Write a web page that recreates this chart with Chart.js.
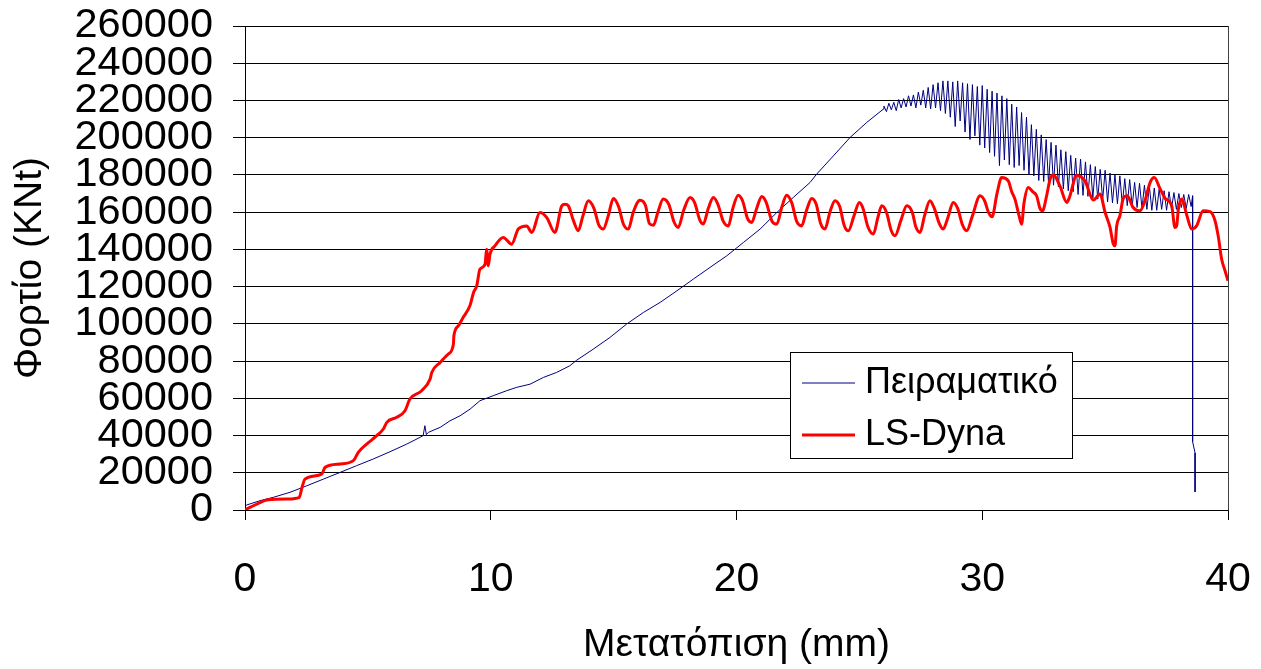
<!DOCTYPE html>
<html>
<head>
<meta charset="utf-8">
<script src="https://cdn.jsdelivr.net/npm/chart.js@4.4.0/dist/chart.umd.min.js"></script>
<style>
  html, body { margin: 0; padding: 0; background: #ffffff; }
  #wrap { width: 1261px; height: 669px; position: relative; }
</style>
</head>
<body>
<div id="wrap"><canvas id="c" width="1261" height="669"></canvas></div>
<script>
// Load–displacement curves: test measurement vs. LS-Dyna simulation
const seriesNames = ['Πειραματικό', 'LS-Dyna'];
const xTitle = 'Μετατόπιση (mm)';
const yTitle = 'Φορτίο (KNt)';
const xTicks = [0, 10, 20, 30, 40];
const yTicks = [0, 20000, 40000, 60000, 80000, 100000, 120000, 140000, 160000,
                180000, 200000, 220000, 240000, 260000];

// Test (Πειραματικό): displacement (mm) and load
const testDisp = [
  0.0, 0.07, 0.61, 1.15, 1.83, 2.51, 3.19, 3.87, 4.54, 5.22, 5.90, 6.58, 7.12, 7.25, 7.32, 7.38, 7.46,
  7.94, 8.34, 8.75, 9.16, 9.56, 10.10, 10.65, 11.06, 11.60, 12.14, 12.68, 13.22, 13.50, 14.17, 14.85,
  15.53, 16.21, 16.89, 17.57, 18.24, 18.92, 19.60, 20.28, 20.96, 21.64, 22.31, 22.99, 23.26, 23.94,
  24.62, 25.30, 25.97,
  26.0, 26.1, 26.2, 26.3, 26.4, 26.5, 26.6, 26.7, 26.8, 26.9,
  27.0, 27.1, 27.2, 27.3, 27.4, 27.5, 27.6, 27.7, 27.8, 27.9,
  28.0, 28.1, 28.2, 28.3, 28.4, 28.5, 28.6, 28.7, 28.8, 28.9,
  29.0, 29.1, 29.2, 29.3, 29.4, 29.5, 29.6, 29.7, 29.8, 29.9,
  30.0, 30.1, 30.2, 30.3, 30.4, 30.5, 30.6, 30.7, 30.8, 30.9,
  31.0, 31.1, 31.2, 31.3, 31.4, 31.5, 31.6, 31.7, 31.8, 31.9,
  32.0, 32.1, 32.2, 32.3, 32.4, 32.5, 32.6, 32.7, 32.8, 32.9,
  33.0, 33.1, 33.2, 33.3, 33.4, 33.5, 33.6, 33.7, 33.8, 33.9,
  34.0, 34.1, 34.2, 34.3, 34.4, 34.5, 34.6, 34.7, 34.8, 34.9,
  35.0, 35.1, 35.2, 35.3, 35.4, 35.5, 35.6, 35.7, 35.8, 35.9,
  36.0, 36.1, 36.2, 36.3, 36.4, 36.5, 36.6, 36.7, 36.8, 36.9,
  37.0, 37.1, 37.2, 37.3, 37.4, 37.5, 37.6, 37.7, 37.8, 37.9,
  38.0, 38.1, 38.2, 38.3, 38.4, 38.5, 38.56, 38.56, 38.66, 38.66
];
const testLoad = [
  2000, 2700, 5000, 6800, 9500, 13000, 16600, 20200, 23800, 27400, 31300, 35400, 39000, 40000, 45300, 40500, 41700,
  44400, 47900, 50600, 54200, 58700, 61400, 64100, 65900, 67600, 71200, 73900, 77500, 80500, 86400, 92700,
  99900, 106100, 111500, 117700, 124000, 130300, 136500, 143700, 150900, 159800, 167900, 175900, 180400, 190200,
  200100, 208200, 215300,
  217000, 214000, 218500, 215000, 219000, 214500, 220500, 216000, 221000, 216500,
  222500, 217000, 223000, 216000, 224500, 217500, 225500, 216000, 227000, 215500,
  228500, 216000, 229500, 214500, 230500, 213000, 230500, 211000, 230000, 206000,
  230500, 209000, 229500, 203000, 229000, 199000, 228500, 201000, 227500, 196000,
  228000, 194500, 226000, 192000, 225000, 190000, 224000, 185000, 222500, 188000,
  221000, 185500, 218000, 184000, 216500, 185000, 213500, 182500, 211000, 180000,
  207000, 179500, 204500, 177000, 201500, 176500, 199000, 175000, 197500, 174500,
  196000, 173500, 193500, 172500, 192500, 171500, 190500, 171000, 189000, 169500,
  188500, 169000, 187000, 168500, 185500, 167500, 184500, 167000, 183000, 166500,
  182500, 165500, 181000, 165000, 180000, 164500, 179500, 164000, 178000, 163500,
  177500, 163000, 176000, 162500, 175500, 162000, 174500, 161500, 174000, 161000,
  173000, 161000, 172500, 161500, 171500, 161000, 171000, 162000, 170500, 161500,
  170000, 162500, 169500, 162000, 169500, 163000, 168800, 36700, 30600, 9700
];

// LS-Dyna simulation: displacement (mm) and load
const dynaDisp = [
  0.00, 0.07, 0.48, 0.95, 1.76, 2.21, 2.31, 2.44, 3.12, 3.26, 3.87, 4.41, 4.61, 4.95, 5.36, 5.63, 5.77,
  6.17, 6.51, 6.71, 7.19, 7.53, 7.60, 7.94, 8.27, 8.48, 8.50, 8.68, 8.88, 9.16, 9.30, 9.43, 9.56, 9.77,
  9.83, 9.90, 9.97, 10.17, 10.51, 10.85, 11.12, 11.46, 11.67, 12.00, 12.28, 12.61, 12.89, 13.02, 13.16,
  13.35, 13.56, 13.75, 13.97, 14.20, 14.40, 14.58, 14.78, 14.99, 15.20, 15.40, 15.60, 15.80, 16.07,
  16.30, 16.45, 16.62, 16.80, 17.02, 17.25, 17.45, 17.63, 17.85, 18.11, 18.30, 18.50, 18.65, 18.85,
  19.06, 19.25, 19.45, 19.67, 19.85, 20.07, 20.25, 20.45, 20.62, 20.82, 21.03, 21.20, 21.45, 21.64,
  21.85, 22.04, 22.25, 22.45, 22.65, 22.85, 23.06, 23.25, 23.42, 23.60, 23.80, 24.01, 24.20, 24.38,
  24.55, 24.78, 25.00, 25.15, 25.35, 25.57, 25.75, 25.91, 26.10, 26.30, 26.45, 26.70, 26.93, 27.15,
  27.30, 27.47, 27.65, 27.87, 28.05, 28.25, 28.41, 28.60, 28.82, 29.00, 29.20, 29.37, 29.60, 29.91,
  30.10, 30.25, 30.40, 30.60, 30.79, 31.06, 31.20, 31.33, 31.50, 31.60, 31.70, 31.87, 32.05, 32.21,
  32.35, 32.45, 32.62, 32.76, 32.89, 33.16, 33.44, 33.55, 33.84, 34.18, 34.52, 34.79, 35.00, 35.20,
  35.33, 35.40, 35.47, 35.60, 35.74, 35.90, 36.14, 36.42, 36.62, 36.83, 37.00, 37.23, 37.44, 37.71,
  37.84, 37.91, 37.98, 38.12, 38.32, 38.52, 38.72, 38.99, 39.27, 39.47, 39.61, 39.74, 39.88, 40.00
];
const dynaLoad = [
  0, 500, 3200, 5500, 5900, 6800, 11600, 16600, 19300, 22900, 24700, 26500, 31000, 35400, 39900, 43500, 47100,
  49800, 53300, 59600, 64100, 70300, 73900, 79300, 83800, 89100, 93600, 98900, 103500, 110000, 116900, 120400, 129400, 132100,
  140100, 131200, 137400, 141900, 146400, 142800, 150900, 152600, 149100, 159800, 157100, 149100, 163400, 164300, 163400,
  156000, 150000, 158000, 166100, 162000, 153000, 150900, 158000, 167300, 163000, 153500, 150900, 160000, 166400,
  163500, 154000, 153000, 160000, 167000, 164000, 155000, 151800, 161000, 167900, 165000, 156000, 153600, 162000,
  167900, 164000, 155500, 152600, 162000, 169100, 166000, 156500, 154500, 162000, 168400, 165500, 155000, 153600,
  163000, 169100, 165000, 155000, 152600, 161000, 167300, 164000, 154000, 150900, 160000, 166100, 163000, 153000,
  150000, 158000, 165200, 162000, 152000, 148200, 157000, 163400, 160000, 150000, 147300, 156000, 163400, 160000,
  152000, 149100, 158000, 166100, 162000, 154000, 150900, 157000, 165200, 162000, 153000, 150000, 158000, 168800,
  166000, 160000, 157500, 170000, 178600, 176800, 171000, 167000, 158000, 153500, 165000, 173300, 171000, 168800,
  162000, 160700, 168800, 177700, 179900, 174100, 165200, 168000, 179700, 176800, 166500, 169700, 159800, 151800,
  143000, 141900, 152600, 158000, 167500, 168800, 162500, 160700, 166100, 175900, 178600, 172800, 167500, 163400,
  151800, 152600, 161600, 167000, 158500, 150900, 152600, 160700, 160300, 155500, 146500, 134800, 128500, 123100
];

const FONT = "'Liberation Sans', Arial, sans-serif";
const toPoints = (xs, ys) => xs.map((x, i) => ({ x: x, y: ys[i] }));

// Right-hand frame line of the plot area
const framePlugin = {
  id: 'frame',
  beforeDatasetsDraw(chart) {
    const { ctx, chartArea: a } = chart;
    ctx.save();
    ctx.strokeStyle = '#404040';
    ctx.lineWidth = 1;
    ctx.beginPath();
    ctx.moveTo(Math.round(a.right) + 0.5, a.top);
    ctx.lineTo(Math.round(a.right) + 0.5, a.bottom);
    ctx.stroke();
    ctx.restore();
  }
};

// Boxed legend inside the plot area
const boxLegend = {
  id: 'boxLegend',
  afterDraw(chart) {
    const { ctx } = chart;
    const box = { x: 790.5, y: 352.5, w: 282, h: 106 };
    ctx.save();
    ctx.fillStyle = '#ffffff';
    ctx.fillRect(box.x, box.y, box.w, box.h);
    ctx.strokeStyle = '#000000';
    ctx.lineWidth = 1;
    ctx.strokeRect(box.x, box.y, box.w, box.h);
    const rows = [383, 435];
    chart.data.datasets.forEach((ds, i) => {
      const y = rows[i];
      ctx.strokeStyle = ds.borderColor;
      ctx.lineWidth = i === 0 ? 1 : 3;
      ctx.beginPath();
      ctx.moveTo(802, y);
      ctx.lineTo(855, y);
      ctx.stroke();
      ctx.fillStyle = '#000000';
      ctx.font = '36px ' + FONT;
      ctx.textBaseline = 'middle';
      ctx.textAlign = 'left';
      ctx.fillText(ds.label, 865, y);
    });
    ctx.restore();
  }
};

new Chart(document.getElementById('c'), {
  type: 'line',
  data: {
    datasets: [
      {
        label: seriesNames[0],
        data: toPoints(testDisp, testLoad),
        borderColor: '#000080',
        borderWidth: 1,
        pointRadius: 0,
        tension: 0,
        order: 1
      },
      {
        label: seriesNames[1],
        data: toPoints(dynaDisp, dynaLoad),
        borderColor: '#ff0000',
        borderWidth: 3,
        pointRadius: 0,
        cubicInterpolationMode: 'monotone',
        order: 0
      }
    ]
  },
  options: {
    responsive: false,
    animation: false,
    devicePixelRatio: 1,
    layout: { padding: { top: 26, right: 33, bottom: 0, left: 0 } },
    plugins: {
      legend: { display: false },
      tooltip: { enabled: false }
    },
    scales: {
      x: {
        type: 'linear',
        min: xTicks[0],
        max: xTicks[xTicks.length - 1],
        afterBuildTicks: s => { s.ticks = xTicks.map(v => ({ value: v })); },
        afterFit: s => { s.height = 159; s.paddingLeft = 0; s.paddingRight = 0; },
        grid: { drawOnChartArea: false, drawTicks: true, tickLength: 10, tickColor: '#000000', color: '#000000' },
        border: { display: true, color: '#000000', width: 1 },
        ticks: { autoSkip: false, maxRotation: 0, padding: 35, color: '#000000', font: { family: FONT, size: 41 } },
        title: { display: true, text: xTitle, color: '#000000', font: { family: FONT, size: 39 }, padding: { top: 0, bottom: 0 } }
      },
      y: {
        type: 'linear',
        min: yTicks[0],
        max: yTicks[yTicks.length - 1],
        afterBuildTicks: s => { s.ticks = yTicks.map(v => ({ value: v })); },
        afterFit: s => { s.width = 245; s.paddingTop = 0; s.paddingBottom = 0; },
        grid: { drawOnChartArea: true, drawTicks: true, tickLength: 12, color: '#000000', tickColor: '#000000', lineWidth: 1 },
        border: { display: true, color: '#000000', width: 1 },
        ticks: { autoSkip: false, padding: 20, color: '#000000', font: { family: FONT, size: 41.5, lineHeight: 1 },
                 callback: v => String(v) },
        title: { display: true, text: yTitle, color: '#000000', font: { family: FONT, size: 39 }, padding: { top: 7, bottom: 0 } }
      }
    }
  },
  plugins: [framePlugin, boxLegend]
});
</script>
</body>
</html>
